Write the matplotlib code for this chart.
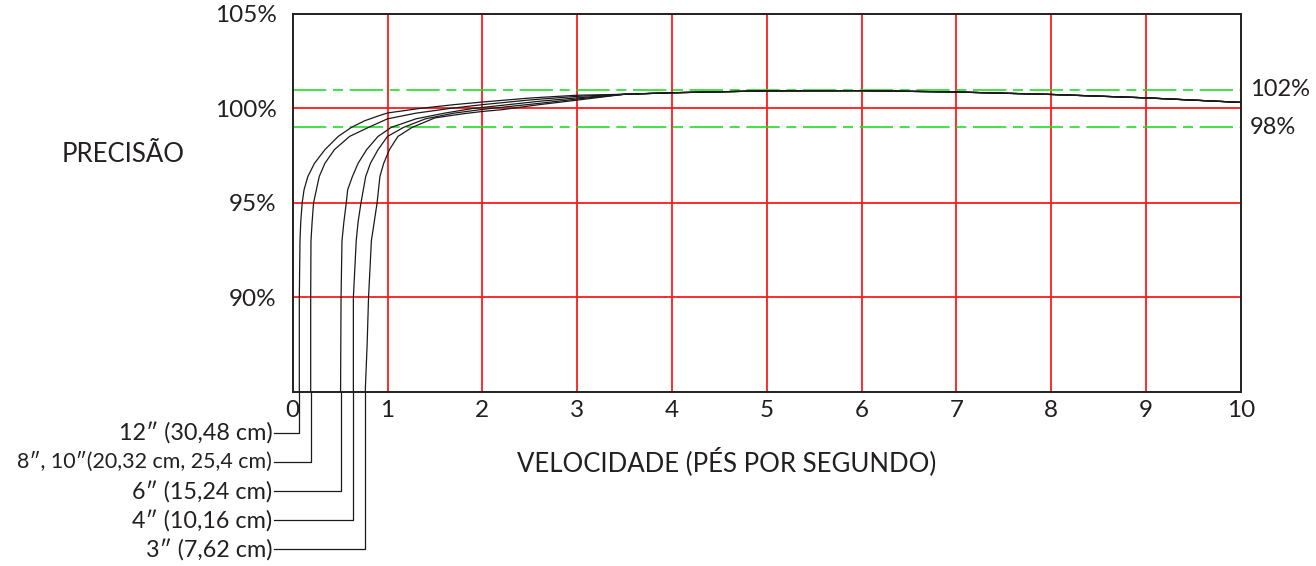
import matplotlib
matplotlib.use("Agg")
import matplotlib.pyplot as plt

plt.rcParams['font.family'] = ['Lato', 'DejaVu Sans']

# data (velocity ft/s, accuracy %)
labels = ['12″ (30,48 cm)', '8″, 10″(20,32 cm, 25,4 cm)', '6″ (15,24 cm)',
          '4″ (10,16 cm)', '3″ (7,62 cm)']

tail_x = [3.5, 4, 5, 6, 7, 8, 9, 10]
tail_y = [100.75, 100.83, 100.93, 100.94, 100.87, 100.74, 100.56, 100.32]

c12_x = [0.07, 0.07, 0.077, 0.085, 0.10, 0.12, 0.16, 0.23, 0.34, 0.48, 0.62, 0.76, 0.90, 1.0, 1.34, 1.7, 2.0, 2.5, 3.0]
c12_y = [85, 90, 93, 94, 95, 95.7, 96.4, 97.1, 97.82, 98.52, 99.0, 99.35, 99.6, 99.76, 100.0, 100.2, 100.34, 100.55, 100.7]

c10_x = [0.19, 0.19, 0.193, 0.205, 0.22, 0.25, 0.28, 0.34, 0.44, 0.60, 0.80, 1.0, 1.3, 1.66, 2.0, 2.5, 3.0]
c10_y = [85, 90, 93, 94, 95, 95.7, 96.4, 97.1, 97.82, 98.52, 99.0, 99.45, 99.75, 100.0, 100.2, 100.45, 100.64]

c6_x = [0.505, 0.51, 0.52, 0.54, 0.565, 0.58, 0.63, 0.69, 0.78, 0.90, 1.04, 1.3, 1.6, 1.9, 2.2, 2.6, 3.0]
c6_y = [85, 90, 93, 94, 95, 95.7, 96.4, 97.1, 97.82, 98.52, 99.0, 99.45, 99.75, 100.0, 100.16, 100.38, 100.56]

c4_x = [0.64, 0.64, 0.67, 0.69, 0.72, 0.745, 0.77, 0.82, 0.90, 1.0, 1.17, 1.4, 1.7, 2.0, 2.6, 3.0]
c4_y = [85, 90, 93, 94, 95, 95.7, 96.4, 97.1, 97.82, 98.52, 99.0, 99.45, 99.75, 99.95, 100.27, 100.5]

c3_x = [0.765, 0.785, 0.80, 0.83, 0.86, 0.89, 0.905, 0.92, 0.96, 1.02, 1.11, 1.26, 1.5, 1.8, 2.0, 2.2, 2.6, 3.0]
c3_y = [85, 87.5, 90, 93, 94, 95, 95.7, 96.4, 97.1, 97.82, 98.52, 99.0, 99.5, 99.72, 99.84, 99.93, 100.2, 100.44]

curves = [(c12_x, c12_y), (c10_x, c10_y), (c6_x, c6_y), (c4_x, c4_y), (c3_x, c3_y)]

x_ticks = list(range(0, 11))
y_ticks = [90, 95, 100, 105]
y_tick_labels = ['90%', '95%', '100%', '105%']
band = [99, 101]
band_labels = ['98%', '102%']

fig = plt.figure(figsize=(13.16, 5.66), dpi=100)
ax = fig.add_axes([0.2224, 0.3074, 0.7206, 0.668])

ax.set_xlim(0, 10)
ax.set_ylim(85, 105)

# red grid
for x in x_ticks[1:-1]:
    ax.axvline(x, color='#ff1a1a', lw=1.3, zorder=1)
for y in [90, 95, 100]:
    ax.axhline(y, color='#ff1a1a', lw=1.3, zorder=1)

# green tolerance lines
for y, lab in zip(band, band_labels):
    ln = ax.axhline(y, color='#22dd22', lw=1.2, zorder=1)
    ln.set_dashes([20, 4, 6, 4])
    ax.text(10.09, y, lab, fontsize=17, color='#231f20', va='center', ha='left', clip_on=False)

for cx, cy in curves:
    ax.plot(cx + tail_x, cy + tail_y, color='#1a1a1a', lw=0.9, zorder=3)

# leader lines and labels under the axis
for i, ((cx, cy), lab) in enumerate(zip(curves, labels)):
    yrow = 85 - 2.17 - 1.54 * i
    ax.plot([cx[0], cx[0], -0.2], [85, yrow, yrow], color='#1a1a1a', lw=0.9, clip_on=False)
    fs = 15.4 if len(lab) > 20 else 16.8
    ax.text(-0.215, yrow, lab, fontsize=fs, color='#231f20', ha='right', va='center', clip_on=False)

ax.set_xticks(x_ticks)
ax.set_xticklabels([str(v) for v in x_ticks])
ax.set_yticks(y_ticks)
ax.set_yticklabels(y_tick_labels)
ax.tick_params(length=0, labelsize=17.5, labelcolor='#231f20')
ax.tick_params(axis='x', pad=6)
ax.tick_params(axis='y', pad=11.5)
for s in ax.spines.values():
    s.set_color('#231f20')
    s.set_linewidth(1.4)

fig.text(123 / 1316, 1 - 155 / 566, 'PRECISÃO', fontsize=18.5, color='#231f20', ha='center', va='center')
fig.text(727 / 1316, 1 - 462 / 566, 'VELOCIDADE (PÉS POR SEGUNDO)', fontsize=18.5, color='#231f20',
         ha='center', va='center')

fig.savefig('out.png', dpi=100)
